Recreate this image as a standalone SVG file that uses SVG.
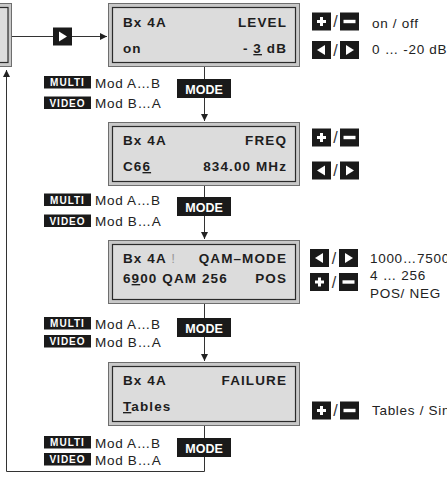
<svg xmlns="http://www.w3.org/2000/svg" xmlns:xlink="http://www.w3.org/1999/xlink" width="447" height="477" viewBox="0 0 447 477">
<style>
.ol{fill:#c8c8c8;stroke:#6e6e6e;stroke-width:1}
.il{fill:#dcdcdc;stroke:#2a2a2a;stroke-width:1.2}
.bt{font-family:"Liberation Sans",Arial,sans-serif;font-weight:bold;font-size:13.5px;fill:#1e1e1e;letter-spacing:1.1px}
.end{text-anchor:end}
.lbl{font-family:"Liberation Sans",Arial,sans-serif;font-size:13.5px;fill:#222;letter-spacing:0.7px}
.tag{fill:#1a1a1a}
.tagt{font-family:"Liberation Sans",Arial,sans-serif;font-weight:bold;font-size:10px;fill:#fff;letter-spacing:1px;text-anchor:middle}
.modet{font-family:"Liberation Sans",Arial,sans-serif;font-weight:bold;font-size:12.5px;fill:#fff;text-anchor:middle}
.sl{font-family:"Liberation Sans",Arial,sans-serif;font-size:16px;fill:#333;text-anchor:middle}
.cn{fill:none;stroke:#333;stroke-width:1}
.ul{text-decoration:underline}
</style>
<defs>
<marker id="ah" markerUnits="userSpaceOnUse" markerWidth="8" markerHeight="7" refX="7" refY="3.5" orient="auto">
<path d="M0,0 L7,3.5 L0,7 z" fill="#222"/>
</marker>
<g id="plus"><rect width="19" height="18" class="tag"/><rect x="5" y="7.5" width="9" height="3" fill="#fff"/><rect x="8" y="4.5" width="3" height="9" fill="#fff"/></g>
<g id="minus"><rect width="19" height="18" class="tag"/><rect x="3.5" y="7.3" width="12" height="3.4" fill="#fff"/></g>
<g id="left"><rect width="19" height="18" class="tag"/><polygon points="13,4 13,14 5,9" fill="#fff"/></g>
<g id="right"><rect width="19" height="18" class="tag"/><polygon points="6,4 6,14 14,9" fill="#fff"/></g>
</defs>

<g id="connectors">
<path class="cn" d="M12,36.5 H107" marker-end="url(#ah)"/>
<use xlink:href="#right" x="53" y="27.5"/>
<path class="cn" d="M204.5,67 V121" marker-end="url(#ah)"/>
<path class="cn" d="M204.5,186 V239" marker-end="url(#ah)"/>
<path class="cn" d="M204.5,304 V361" marker-end="url(#ah)"/>
<path class="cn" d="M204.5,426 V471.5 H6.5 V70" marker-end="url(#ah)"/>
<g id="mode1"><rect x="177" y="79" width="54" height="19" class="tag"/><text x="204" y="93.5" class="modet">MODE</text></g>
<g id="mode2"><rect x="177" y="197" width="54" height="19" class="tag"/><text x="204" y="211.5" class="modet">MODE</text></g>
<g id="mode3"><rect x="177" y="318" width="54" height="19" class="tag"/><text x="204" y="332.5" class="modet">MODE</text></g>
<g id="mode4"><rect x="177" y="438" width="54" height="19" class="tag"/><text x="204" y="452.5" class="modet">MODE</text></g>
</g>

<g id="prev-box">
<rect x="-20" y="3.5" width="31.5" height="63" class="ol"/>
<rect x="-20" y="7.5" width="28" height="55" class="il"/>
</g>

<g id="box-level">
<rect x="108.5" y="3.5" width="191" height="63" class="ol"/>
<rect x="112.5" y="7.5" width="183" height="55" class="il"/>
<text x="123" y="27" class="bt">Bx 4A</text>
<text x="287" y="27" class="bt end">LEVEL</text>
<text x="123" y="53" class="bt">on</text>
<text x="287" y="53" class="bt end">- <tspan class="ul">3</tspan> dB</text>
</g>

<g id="box-freq">
<rect x="108.5" y="122.5" width="191" height="63" class="ol"/>
<rect x="112.5" y="126.5" width="183" height="55" class="il"/>
<text x="123" y="144.5" class="bt">Bx 4A</text>
<text x="287" y="144.5" class="bt end">FREQ</text>
<text x="123" y="171" class="bt">C6<tspan class="ul">6</tspan></text>
<text x="287" y="171" class="bt end">834.00 MHz</text>
</g>

<g id="box-qam">
<rect x="108.5" y="240.5" width="191" height="63" class="ol"/>
<rect x="112.5" y="244.5" width="183" height="55" class="il"/>
<text x="123" y="263" class="bt">Bx 4A <tspan fill="#9a9a9a" font-weight="normal">!</tspan></text>
<text x="287" y="263" class="bt end">QAM–MODE</text>
<text x="123" y="283" class="bt">6<tspan class="ul">9</tspan>00 QAM 256</text>
<text x="287" y="283" class="bt end">POS</text>
</g>

<g id="box-failure">
<rect x="108.5" y="362.5" width="191" height="63" class="ol"/>
<rect x="112.5" y="366.5" width="183" height="55" class="il"/>
<text x="123" y="384.5" class="bt">Bx 4A</text>
<text x="287" y="384.5" class="bt end">FAILURE</text>
<text x="123" y="411" class="bt"><tspan class="ul">T</tspan>ables</text>
</g>

<g id="mod-labels">
<rect x="44" y="76" width="47" height="12.5" class="tag"/><text x="67.5" y="86.3" class="tagt">MULTI</text><text x="95" y="87.5" class="lbl">Mod A…B</text>
<rect x="44" y="96.5" width="47" height="12.5" class="tag"/><text x="67.5" y="106.8" class="tagt">VIDEO</text><text x="95" y="108" class="lbl">Mod B…A</text>
<rect x="44" y="193.5" width="47" height="12.5" class="tag"/><text x="67.5" y="203.8" class="tagt">MULTI</text><text x="95" y="205" class="lbl">Mod A…B</text>
<rect x="44" y="214.5" width="47" height="12.5" class="tag"/><text x="67.5" y="224.8" class="tagt">VIDEO</text><text x="95" y="226" class="lbl">Mod B…A</text>
<rect x="44" y="317" width="47" height="12.5" class="tag"/><text x="67.5" y="327.3" class="tagt">MULTI</text><text x="95" y="328.5" class="lbl">Mod A…B</text>
<rect x="44" y="335" width="47" height="12.5" class="tag"/><text x="67.5" y="345.3" class="tagt">VIDEO</text><text x="95" y="346.5" class="lbl">Mod B…A</text>
<rect x="44" y="436" width="47" height="12.5" class="tag"/><text x="67.5" y="446.3" class="tagt">MULTI</text><text x="95" y="447.5" class="lbl">Mod A…B</text>
<rect x="44" y="453" width="47" height="12.5" class="tag"/><text x="67.5" y="463.3" class="tagt">VIDEO</text><text x="95" y="464.5" class="lbl">Mod B…A</text>
</g>

<g id="keys-level">
<use xlink:href="#plus" x="312" y="12.5"/><text x="335.5" y="27" class="sl">/</text><use xlink:href="#minus" x="340" y="12.5"/>
<text x="372" y="28" class="lbl">on / off</text>
<use xlink:href="#left" x="312" y="41"/><text x="335.5" y="55.5" class="sl">/</text><use xlink:href="#right" x="340" y="41"/>
<text x="372" y="53.5" class="lbl">0 … -20 dB</text>
</g>

<g id="keys-freq">
<use xlink:href="#plus" x="312" y="128.5"/><text x="335.5" y="143" class="sl">/</text><use xlink:href="#minus" x="340" y="128.5"/>
<use xlink:href="#left" x="312" y="161.5"/><text x="335.5" y="176" class="sl">/</text><use xlink:href="#right" x="340" y="161.5"/>
</g>

<g id="keys-qam">
<use xlink:href="#left" x="310" y="249"/><text x="334" y="263.5" class="sl">/</text><use xlink:href="#right" x="339" y="249"/>
<use xlink:href="#plus" x="310" y="273"/><text x="334" y="287.5" class="sl">/</text><use xlink:href="#minus" x="339" y="273"/>
<text x="370" y="263" class="lbl">1000…7500</text>
<text x="370" y="280" class="lbl">4 … 256</text>
<text x="370" y="298" class="lbl">POS/ NEG</text>
</g>

<g id="keys-failure">
<use xlink:href="#plus" x="312" y="401.5"/><text x="335.5" y="416" class="sl">/</text><use xlink:href="#minus" x="340" y="401.5"/>
<text x="372" y="414.5" class="lbl">Tables / Sin</text>
</g>
</svg>
